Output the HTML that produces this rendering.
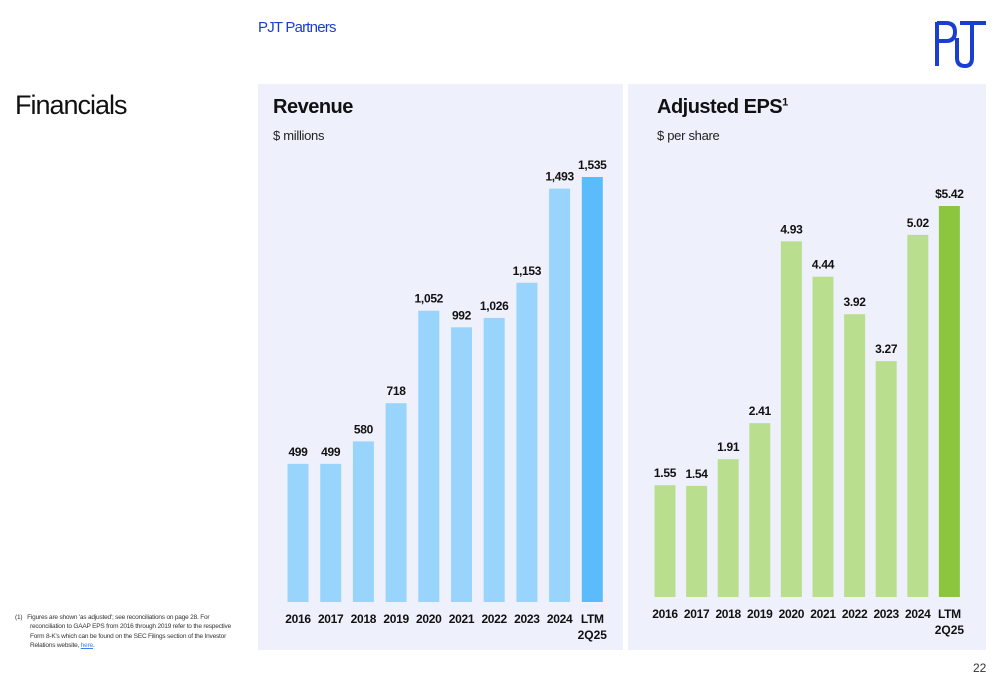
<!DOCTYPE html>
<html><head><meta charset="utf-8"><style>
body{margin:0;width:1000px;height:685px;background:#fff;font-family:"Liberation Sans",sans-serif;position:relative;overflow:hidden}
.abs{position:absolute}
.panel{position:absolute;background:#eef0fb}
</style></head><body>
<div class="abs" style="left:258px;top:19px;font-size:15px;color:#1a3fd0;letter-spacing:-0.8px">PJT Partners</div>
<svg class="abs" style="left:930px;top:18px" width="60" height="54" viewBox="0 0 60 54">
<path d="M7 4V48M7 5H16Q25 5 25 14Q25 23 16 23H7" fill="none" stroke="#1a3fd0" stroke-width="4"/>
<path d="M27 20V40Q27 48 35 48Q42 48 42 40V5M30 5H56" fill="none" stroke="#1a3fd0" stroke-width="4"/>
</svg>
<div class="abs" style="left:15px;top:90px;font-size:27px;color:#111;letter-spacing:-1px">Financials</div>
<div class="abs" style="left:15px;top:613px;width:212px;font-size:6.5px;line-height:9.3px;color:#333;padding-left:15px;text-indent:-15px;letter-spacing:-0.2px">(1)&nbsp;&nbsp;&nbsp;Figures are shown 'as adjusted'; see reconciliations on page 28. For reconciliation to GAAP EPS from 2016 through 2019 refer to the respective Form 8-K's which can be found on the SEC Filings section of the Investor Relations website, <span style="color:#3b7ef0;text-decoration:underline">here</span>.</div>
<div class="abs" style="left:973px;top:661px;font-size:12px;color:#333">22</div>

<div class="panel" style="left:258px;top:84px;width:365px;height:566px"></div>
<div class="panel" style="left:628px;top:84px;width:358px;height:566px"></div>
<div class="abs" style="left:273px;top:96px;font-size:20px;font-weight:bold;color:#111;letter-spacing:-0.5px">Revenue</div>
<div class="abs" style="left:273px;top:128px;font-size:13px;color:#222;letter-spacing:-0.3px">$ millions</div>
<div class="abs" style="left:657px;top:96px;font-size:20px;font-weight:bold;color:#111;letter-spacing:-0.5px">Adjusted EPS<sup style="font-size:11px">1</sup></div>
<div class="abs" style="left:657px;top:128px;font-size:13px;color:#222;letter-spacing:-0.3px">$ per share</div>
<svg class="abs" id="chart" style="left:0;top:0" width="1000" height="685"></svg>
<script>
const categories=["2016","2017","2018","2019","2020","2021","2022","2023","2024","LTM"];
const revenue=[499,499,580,718,1052,992,1026,1153,1493,1535];
const revLabels=["499","499","580","718","1,052","992","1,026","1,153","1,493","1,535"];
const eps=[1.55,1.54,1.91,2.41,4.93,4.44,3.92,3.27,5.02,5.42];
const epsLabels=["1.55","1.54","1.91","2.41","4.93","4.44","3.92","3.27","5.02","$5.42"];
const svg=document.getElementById('chart');
const NS='http://www.w3.org/2000/svg';
function mk(tag,attrs,text){const e=document.createElementNS(NS,tag);for(const k in attrs)e.setAttribute(k,attrs[k]);if(text!==undefined)e.textContent=text;svg.appendChild(e);return e;}
function draw(prefix,vals,labels,x0,step,base,scale,col,lastCol){
  const y=v=>base-v*scale;
  vals.forEach((v,i)=>{
    const cx=x0+i*step;
    const r=mk('rect',{x:cx-10.5,y:y(v),width:21,height:base-y(v),fill:i===vals.length-1?lastCol:col});
    
    
    const t=mk('text',{x:cx,y:y(v)-8,'text-anchor':'middle','font-size':12,'font-weight':'bold',fill:'#111','letter-spacing':'-0.3'},labels[i]);
    
    
    const c=mk('text',{x:cx,y:base+21,'text-anchor':'middle','font-size':12,'font-weight':'bold',fill:'#111','letter-spacing':'-0.3'},categories[i]);
    
    
    if(i===vals.length-1){const c2=mk('text',{x:cx,y:base+37,'text-anchor':'middle','font-size':12,'font-weight':'bold',fill:'#111'},'2Q25');
    
    }
  });
}
draw('revenue',revenue,revLabels,298,32.7,602,425/1535,'#99d4fd','#5bbcfb');
draw('eps',eps,epsLabels,665,31.6,597,391/5.42,'#b9df8e','#8cc63f');
</script>
</body></html>
